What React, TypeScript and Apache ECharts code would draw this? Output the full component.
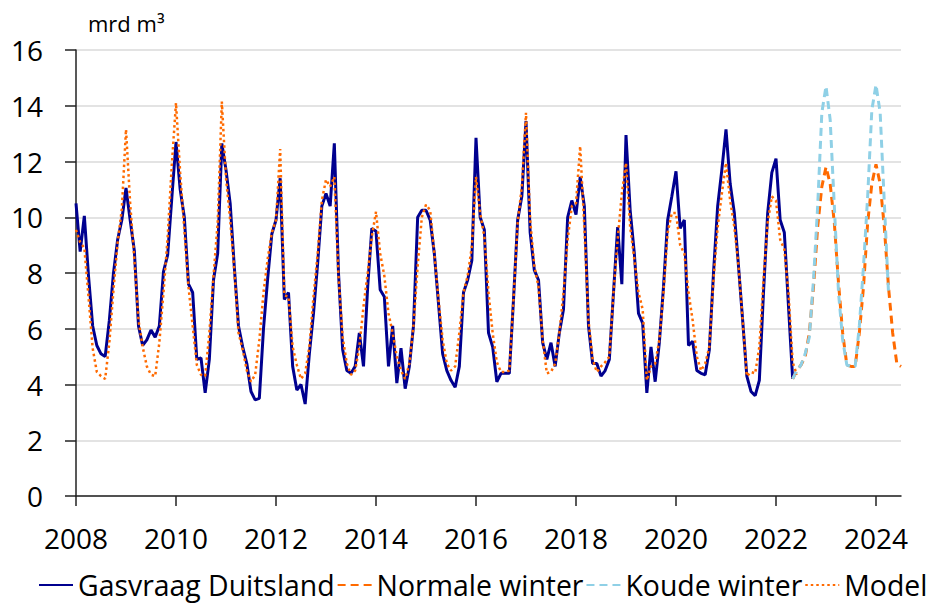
import React, { useEffect, useRef } from "react";
import * as echarts from "echarts";

const startYear = 2008;
const unitLabel = "mrd m³";
const xTickLabels = [2008, 2010, 2012, 2014, 2016, 2018, 2020, 2022, 2024];

// Monthly values from Jan 2008
const gasvraag = [
  10.5, 8.77, 10.05, 7.9, 6.1, 5.4, 5.1, 5.0, 6.3, 8.0, 9.2, 9.9,
  11.05, 9.9, 8.8, 6.1, 5.4, 5.6, 5.95, 5.7, 6.1, 8.05, 8.65, 10.7,
  12.7, 11.0, 10.0, 7.6, 7.3, 4.9, 4.95, 3.7, 4.9, 7.75, 8.7, 12.65,
  11.7, 10.5, 8.2, 6.1, 5.35, 4.75, 3.75, 3.45, 3.5, 6.0, 7.8, 9.4,
  9.9, 11.4, 7.05, 7.3, 4.65, 3.8, 4.0, 3.3, 5.1, 6.55, 8.35, 10.4,
  10.85, 10.4, 12.65, 8.0, 5.25, 4.5, 4.4, 4.65, 5.85, 4.65, 7.5, 9.6,
  9.5, 7.4, 7.15, 4.65, 6.1, 4.05, 5.3, 3.85, 4.65, 6.1, 10.0, 10.25,
  10.25, 9.9, 8.7, 6.9, 5.1, 4.5, 4.15, 3.9, 4.65, 7.3, 7.75, 8.45,
  12.85, 10.0, 9.55, 5.85, 5.35, 4.1, 4.4, 4.4, 4.4, 7.05, 9.9, 10.75,
  13.45, 9.45, 8.1, 7.75, 5.5, 4.9, 5.5, 4.65, 5.85, 6.7, 10.0, 10.6,
  10.1, 11.45, 10.4, 6.1, 4.75, 4.75, 4.3, 4.5, 4.9, 7.3, 9.65, 7.6,
  12.95, 10.25, 8.7, 6.55, 6.2, 3.7, 5.35, 4.1, 5.5, 7.5, 9.9, 10.75,
  11.65, 9.6, 9.9, 5.4, 5.55, 4.5, 4.4, 4.35, 5.25, 8.0, 10.4, 11.7,
  13.15, 11.2, 10.15, 8.25, 6.3, 4.3, 3.75, 3.6, 4.15, 7.3, 10.15, 11.6,
  12.1, 9.9, 9.45, 6.8, 4.2,
];

const model = [
  9.55, 9.1, 8.9, 7.15, 5.3, 4.45, 4.3, 4.2, 5.5, 7.4, 9.1, 10.3,
  13.15, 10.5, 8.5, 6.3, 5.35, 4.65, 4.35, 4.3, 5.5, 7.3, 9.3, 11.9,
  14.1, 11.6, 9.55, 7.5, 6.1, 4.7, 4.35, 4.3, 5.85, 7.9, 9.8, 14.15,
  11.4, 9.9, 8.1, 5.85, 5.25, 4.5, 4.1, 4.35, 5.6, 7.3, 8.5, 9.45,
  9.9, 12.45, 7.2, 7.15, 5.35, 4.7, 4.2, 4.4, 5.35, 7.15, 8.7, 10.6,
  11.35, 11.1, 11.45, 7.9, 5.7, 4.75, 4.35, 4.5, 5.35, 6.8, 8.0, 9.3,
  10.2, 8.7, 7.9, 6.55, 5.85, 5.0, 4.5, 4.2, 4.75, 6.1, 8.25, 10.0,
  10.45, 10.25, 8.7, 7.05, 5.6, 4.75, 4.5, 4.65, 5.85, 7.3, 7.9, 8.95,
  11.45, 10.15, 9.3, 7.3, 5.85, 4.8, 4.45, 4.45, 4.5, 7.05, 9.8, 11.1,
  13.75, 9.9, 8.25, 7.5, 5.6, 4.4, 4.45, 4.75, 5.85, 7.3, 9.2, 10.4,
  10.5, 12.55, 9.65, 6.3, 4.9, 4.45, 4.65, 4.8, 5.0, 7.3, 9.2, 10.85,
  11.95, 9.65, 8.5, 7.3, 6.7, 4.15, 4.65, 4.75, 5.6, 7.3, 9.45, 10.15,
  10.15, 9.0, 8.7, 7.3, 6.3, 5.0, 4.5, 4.75, 5.35, 7.75, 9.65, 10.85,
  11.95, 10.6, 9.65, 8.25, 6.3, 4.3, 4.45, 4.4, 5.35, 7.75, 9.8, 10.75,
  10.6, 9.2, 8.85, 7.3, 4.8, 4.35,
];

// Scenarios start at month index 172 (May 2022)
const scenarioStart = 172;
const normaleWinter = [
  4.2, 4.5, 4.7, 5.0, 5.85, 7.5, 9.65, 11.1, 11.8, 11.2, 9.8, 7.65,
  5.85, 4.7, 4.65, 4.65, 5.85, 7.5, 9.8, 11.2, 11.9, 11.2, 9.65, 7.5,
  5.85, 4.75, 4.65,
];
const koudeWinter = [
  4.2, 4.5, 4.7, 5.1, 5.7, 7.75, 10.4, 13.75, 14.7, 13.5, 10.4, 7.3,
  5.6, 4.7, 4.65, 4.65, 6.1, 8.25, 10.75, 13.85, 14.75, 13.75, 10.5, 7.3,
];

const toPairs = (arr: number[], offset: number) =>
  arr.map((v, i) => [startYear + (offset + i) / 12, v]);

const FONT = "'Open Sans', 'Noto Sans', sans-serif";

export default function App() {
  const ref = useRef<HTMLDivElement>(null);
  useEffect(() => {
    if (!ref.current) return;
    const chart = echarts.init(ref.current, null, { renderer: "svg" });
    chart.setOption({
      animation: false,
      backgroundColor: "#ffffff",
      textStyle: { fontFamily: FONT },
      grid: { left: 76, right: 41, top: 50, bottom: 107, containLabel: false },
      graphic: [
        {
          type: "text",
          left: 88,
          top: 12,
          style: { text: unitLabel, fontSize: 22, fontFamily: FONT, fill: "#000" },
        },
      ],
      legend: {
        left: 38,
        top: 571,
        width: 904,
        itemWidth: 34,
        itemHeight: 14,
        itemGap: 2,
        padding: 0,
        itemStyle: { opacity: 0 },
        textStyle: { fontSize: 28.4, color: "#000", fontFamily: FONT },
        data: ["Gasvraag Duitsland", "Normale winter", "Koude winter", "Model"],
      },
      xAxis: {
        type: "value",
        min: 2008,
        max: 2024.5,
        interval: 2,
        axisLine: { show: true, lineStyle: { color: "#222", width: 1.5 } },
        axisTick: {
          show: true,
          length: 10,
          lineStyle: { color: "#222", width: 1.5 },
          customValues: xTickLabels,
        },
        axisLabel: {
          fontSize: 28,
          color: "#000",
          margin: 28,
          fontFamily: FONT,
          customValues: xTickLabels,
          formatter: (v: number) => String(v),
        },
        splitLine: { show: false },
      },
      yAxis: {
        type: "value",
        min: 0,
        max: 16,
        interval: 2,
        axisLine: { show: true, lineStyle: { color: "#222", width: 1.5 } },
        axisTick: { show: true, length: 11, lineStyle: { color: "#222", width: 1.5 } },
        axisLabel: { fontSize: 28, color: "#000", margin: 33, fontFamily: FONT },
        splitLine: { show: true, lineStyle: { color: "#e3e3e3", width: 2 } },
      },
      series: [
        {
          name: "Gasvraag Duitsland",
          type: "line",
          data: toPairs(gasvraag, 0),
          symbol: "none",
          lineStyle: { color: "#00008f", width: 3 },
          itemStyle: { color: "#00008f" },
          z: 2,
        },
        {
          name: "Normale winter",
          type: "line",
          data: toPairs(normaleWinter, scenarioStart),
          symbol: "none",
          lineStyle: { color: "#ff6a00", width: 3, type: [8, 5] },
          itemStyle: { color: "#ff6a00" },
          z: 3,
        },
        {
          name: "Koude winter",
          type: "line",
          data: toPairs(koudeWinter, scenarioStart),
          symbol: "none",
          lineStyle: { color: "#8fd0e6", width: 3, type: [8, 5] },
          itemStyle: { color: "#8fd0e6" },
          z: 4,
        },
        {
          name: "Model",
          type: "line",
          data: toPairs(model, 0),
          symbol: "none",
          lineStyle: { color: "#ff6a00", width: 2.5, type: [2.5, 3] },
          itemStyle: { color: "#ff6a00" },
          z: 5,
        },
      ],
    });
    return () => chart.dispose();
  }, []);
  return (
    <div
      ref={ref}
      style={{ position: "fixed", left: 0, top: 0, width: 942, height: 603 }}
    />
  );
}
